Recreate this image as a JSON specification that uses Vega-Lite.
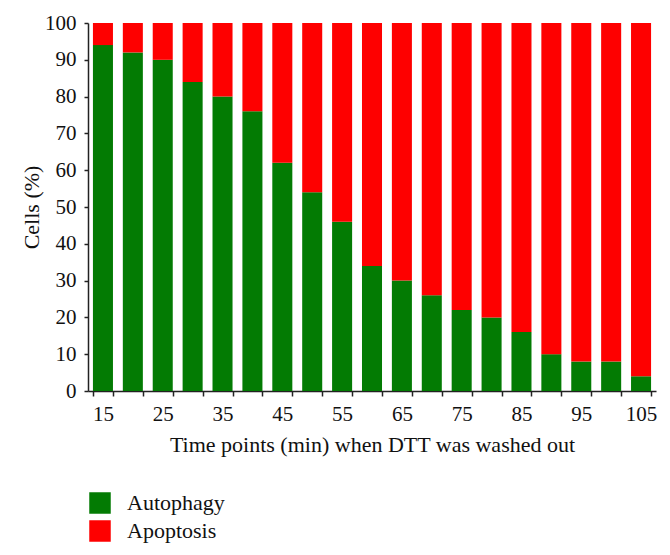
{
  "$schema": "https://vega.github.io/schema/vega-lite/v6.json",
  "autosize": "none",
  "width": 568,
  "height": 368,
  "padding": {"left": 88, "top": 23, "right": 14, "bottom": 164},
  "background": "white",
  "config": {
    "view": {"stroke": null},
    "font": "Liberation Serif",
    "axis": {"domainColor": "#222", "tickColor": "#222", "labelColor": "#111", "titleColor": "#111", "grid": false, "labelFont": "Liberation Serif", "titleFont": "Liberation Serif", "titleFontWeight": "normal"},
    "legend": {"labelFont": "Liberation Serif"}
  },
  "data": {
    "values": [
      {"t": 15, "type": "Autophagy", "v": 94}, {"t": 15, "type": "Apoptosis", "v": 6},
      {"t": 20, "type": "Autophagy", "v": 92}, {"t": 20, "type": "Apoptosis", "v": 8},
      {"t": 25, "type": "Autophagy", "v": 90}, {"t": 25, "type": "Apoptosis", "v": 10},
      {"t": 30, "type": "Autophagy", "v": 84}, {"t": 30, "type": "Apoptosis", "v": 16},
      {"t": 35, "type": "Autophagy", "v": 80}, {"t": 35, "type": "Apoptosis", "v": 20},
      {"t": 40, "type": "Autophagy", "v": 76}, {"t": 40, "type": "Apoptosis", "v": 24},
      {"t": 45, "type": "Autophagy", "v": 62}, {"t": 45, "type": "Apoptosis", "v": 38},
      {"t": 50, "type": "Autophagy", "v": 54}, {"t": 50, "type": "Apoptosis", "v": 46},
      {"t": 55, "type": "Autophagy", "v": 46}, {"t": 55, "type": "Apoptosis", "v": 54},
      {"t": 60, "type": "Autophagy", "v": 34}, {"t": 60, "type": "Apoptosis", "v": 66},
      {"t": 65, "type": "Autophagy", "v": 30}, {"t": 65, "type": "Apoptosis", "v": 70},
      {"t": 70, "type": "Autophagy", "v": 26}, {"t": 70, "type": "Apoptosis", "v": 74},
      {"t": 75, "type": "Autophagy", "v": 22}, {"t": 75, "type": "Apoptosis", "v": 78},
      {"t": 80, "type": "Autophagy", "v": 20}, {"t": 80, "type": "Apoptosis", "v": 80},
      {"t": 85, "type": "Autophagy", "v": 16}, {"t": 85, "type": "Apoptosis", "v": 84},
      {"t": 90, "type": "Autophagy", "v": 10}, {"t": 90, "type": "Apoptosis", "v": 90},
      {"t": 95, "type": "Autophagy", "v": 8}, {"t": 95, "type": "Apoptosis", "v": 92},
      {"t": 100, "type": "Autophagy", "v": 8}, {"t": 100, "type": "Apoptosis", "v": 92},
      {"t": 105, "type": "Autophagy", "v": 4}, {"t": 105, "type": "Apoptosis", "v": 96}
    ]
  },
  "mark": {"type": "bar"},
  "encoding": {
    "x": {
      "field": "t", "type": "ordinal",
      "scale": {"paddingInner": 0.33, "paddingOuter": 0.165},
      "axis": {
        "title": "Time points (min) when DTT was washed out",
        "labelAngle": 0,
        "tickBand": "extent",
        "labelExpr": "(datum.value - 15) % 10 === 0 ? datum.label : ''",
        "labelFontSize": 21, "titleFontSize": 22,
        "tickSize": 5, "labelPadding": 7, "titlePadding": 10,
        "domainWidth": 1.5, "tickWidth": 1.5
      }
    },
    "y": {
      "field": "v", "type": "quantitative", "stack": "zero",
      "scale": {"domain": [0, 100]},
      "axis": {
        "title": "Cells (%)",
        "values": [0, 10, 20, 30, 40, 50, 60, 70, 80, 90, 100],
        "labelFontSize": 21, "titleFontSize": 22,
        "tickSize": 4, "labelPadding": 8, "titlePadding": 1,
        "domainWidth": 1.5, "tickWidth": 1.5
      }
    },
    "color": {
      "field": "type", "type": "nominal",
      "scale": {"domain": ["Autophagy", "Apoptosis"], "range": ["#037b03", "#fe0000"]},
      "legend": {
        "title": null, "orient": "none", "legendX": 1, "legendY": 469,
        "symbolType": "square", "symbolSize": 462, "symbolStrokeWidth": 0,
        "labelFontSize": 22, "labelOffset": 16, "rowPadding": 6, "labelColor": "#111"
      }
    },
    "order": {"field": "type", "sort": "descending"}
  }
}
